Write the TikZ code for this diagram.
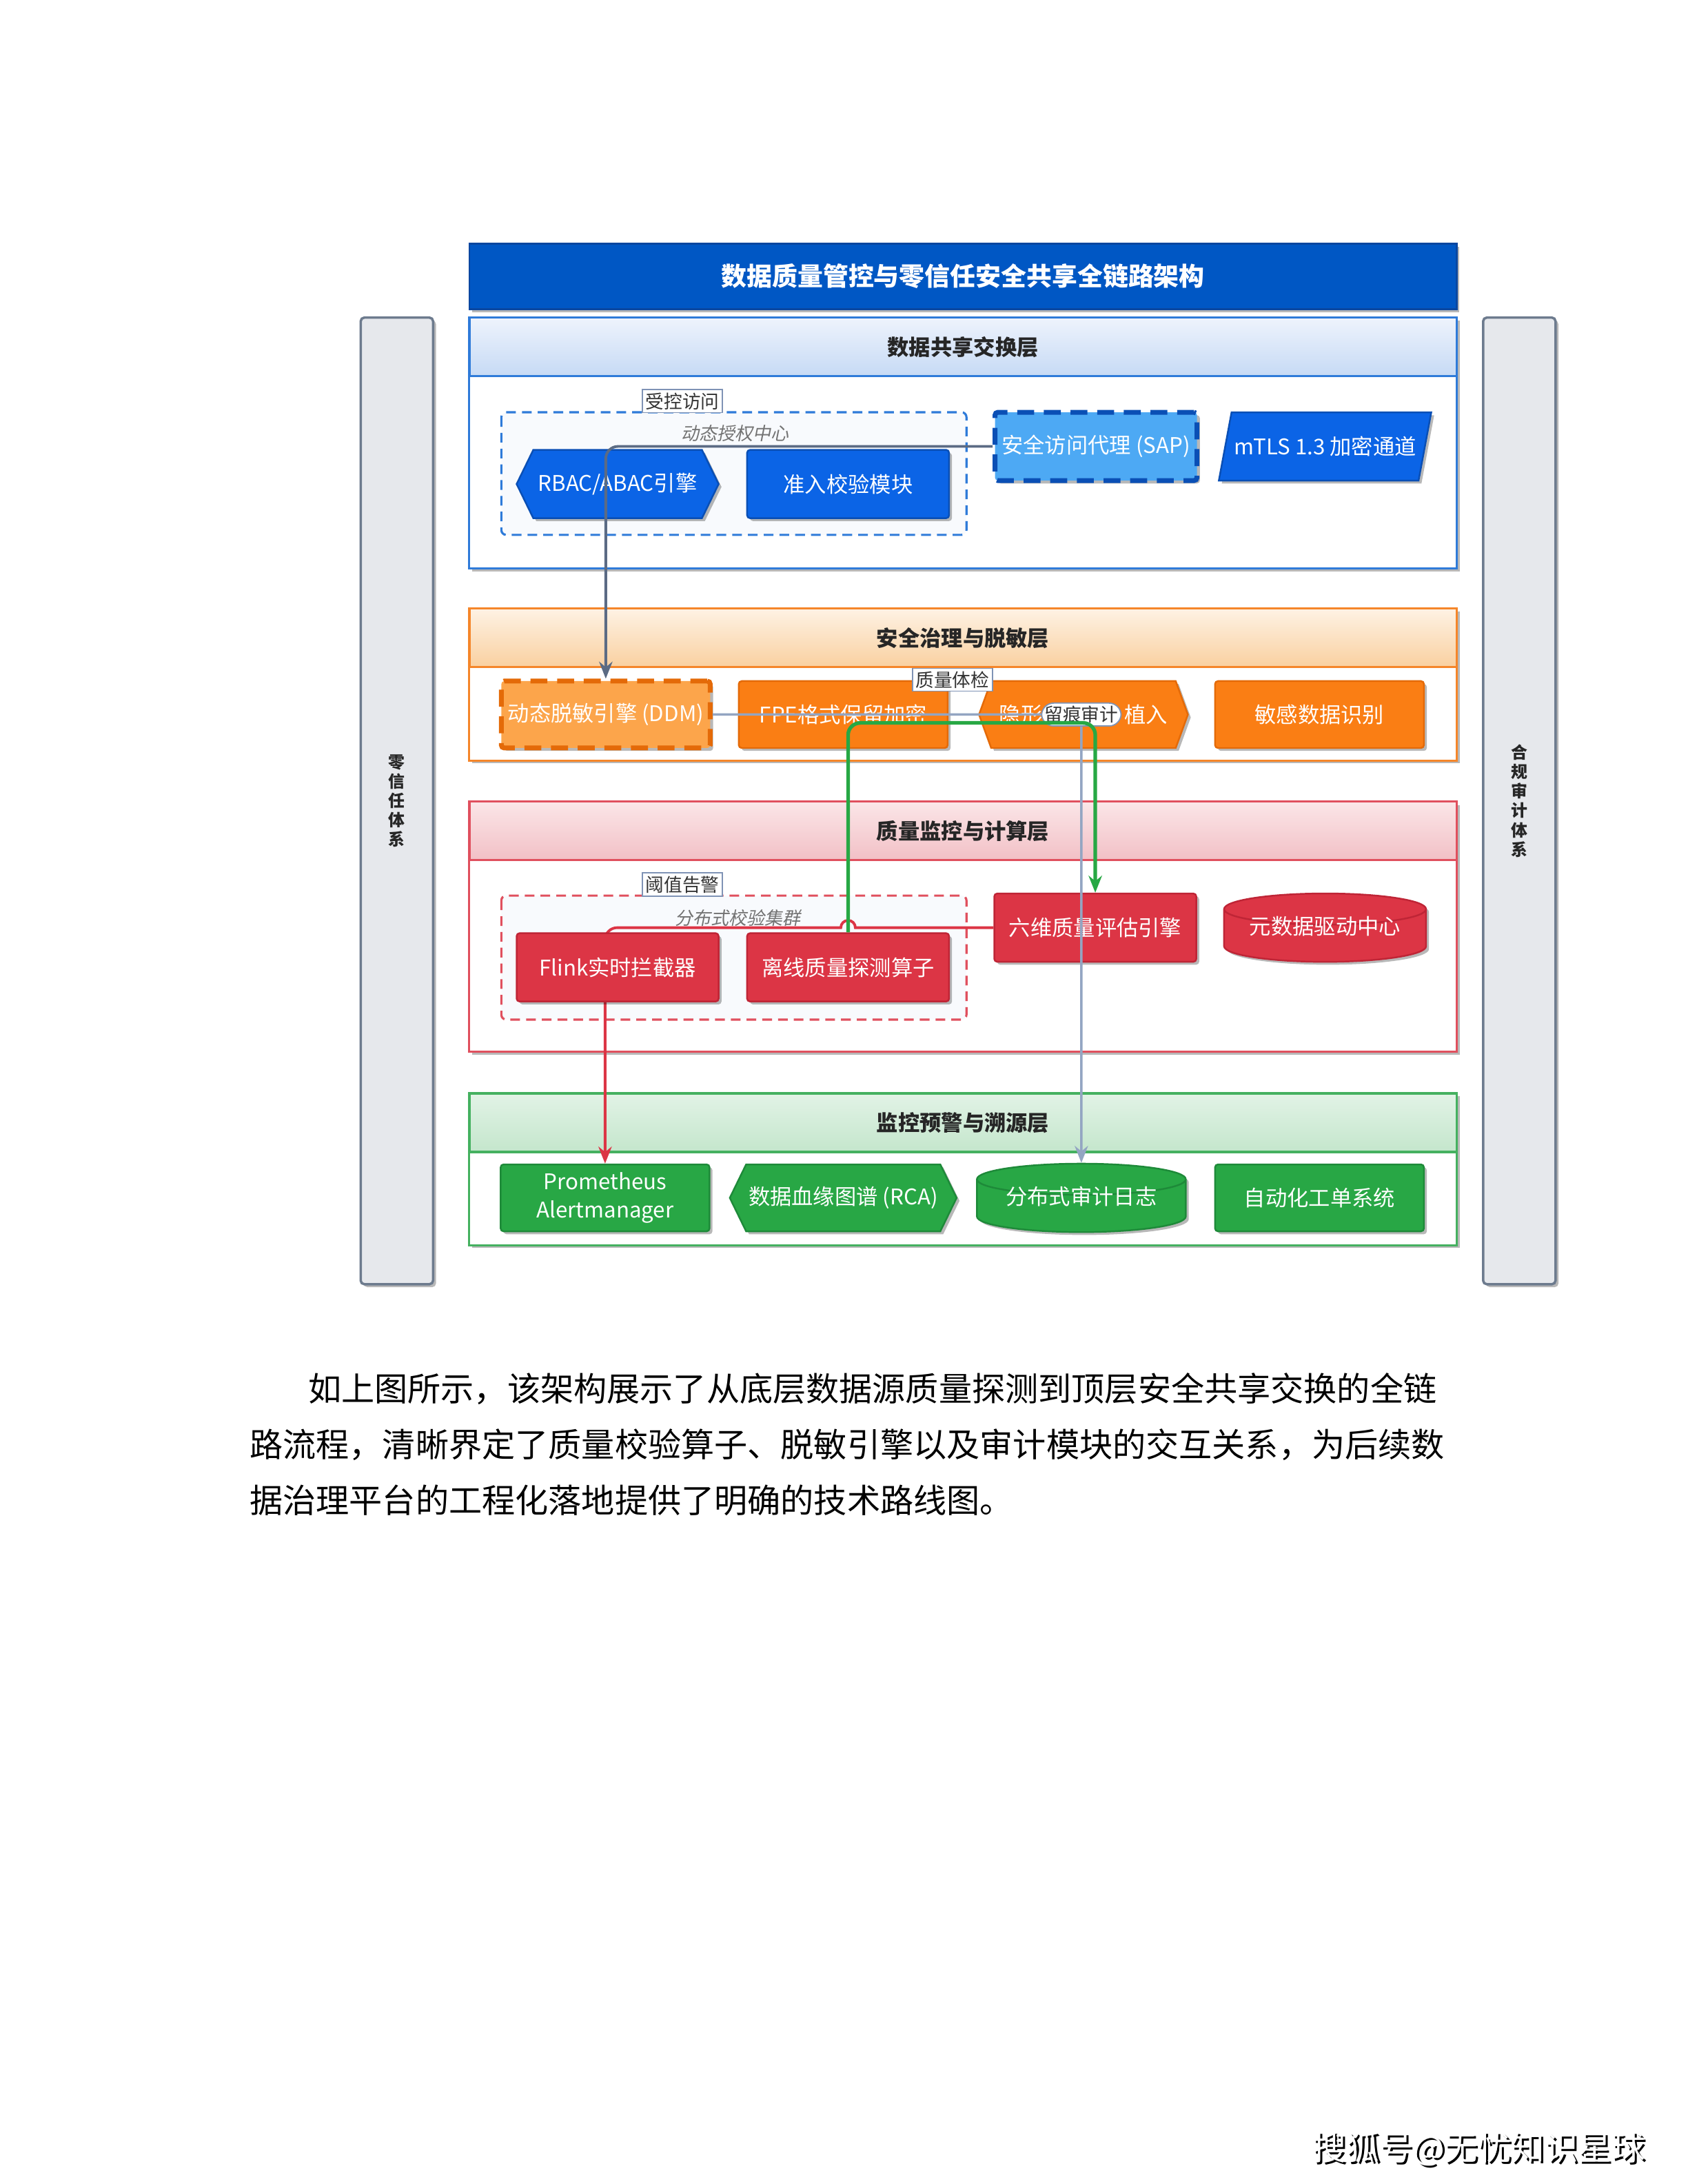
\documentclass[tikz,border=0pt]{standalone}
\usepackage{fontspec}
\setmainfont{Noto Sans CJK SC}
\newfontfamily\slantcjk{Noto Sans CJK SC}[FakeSlant=0.2]
\usetikzlibrary{calc,positioning,arrows.meta,shapes.geometric,shapes.symbols,shadows}

\definecolor{hdblue}{HTML}{0057C4}
\definecolor{hdblueD}{HTML}{0A47A0}
\definecolor{nblue}{HTML}{0B64E6}
\definecolor{nblueD}{HTML}{0A4FB5}
\definecolor{sapblue}{HTML}{4DA9F4}
\definecolor{lblue}{HTML}{2F7BD9}
\definecolor{hbA}{HTML}{EEF3FC}
\definecolor{hbB}{HTML}{C6DAF5}
\definecolor{nor}{HTML}{FA7E14}
\definecolor{norD}{HTML}{E46A08}
\definecolor{ddmor}{HTML}{FCA54B}
\definecolor{lor}{HTML}{F5862A}
\definecolor{hoA}{HTML}{FEF2E4}
\definecolor{hoB}{HTML}{F9D0A0}
\definecolor{nred}{HTML}{DC3545}
\definecolor{nredD}{HTML}{BF2536}
\definecolor{lred}{HTML}{E0505E}
\definecolor{hrA}{HTML}{FBE6E8}
\definecolor{hrB}{HTML}{F2C0C6}
\definecolor{ngreen}{HTML}{28A745}
\definecolor{ngreenD}{HTML}{1E8A39}
\definecolor{lgreen}{HTML}{45B160}
\definecolor{hgA}{HTML}{E2F3E6}
\definecolor{hgB}{HTML}{C4E6CC}
\definecolor{qgreen}{HTML}{27A844}
\definecolor{grpfill}{HTML}{F8FAFD}
\definecolor{sidegray}{HTML}{E6E8EC}
\definecolor{sideline}{HTML}{6D7B8E}
\definecolor{tagline}{HTML}{7F93B5}
\definecolor{slate}{HTML}{5B6B84}
\definecolor{paleslate}{HTML}{93A5C2}

\pgfdeclarelayer{bg}
\pgfdeclarelayer{mid}
\pgfsetlayers{bg,mid,main}

\tikzset{
  dshadow/.style={drop shadow={shadow xshift=1.2pt,shadow yshift=-1.2pt,opacity=0.28,fill=black}},
  box/.style={rectangle,rounded corners=1.2pt,minimum width=2.93cm,minimum height=0.99cm,
    inner sep=1pt,align=center,text=white,line width=0.7pt,
    font=\fontsize{8.9}{11.5}\selectfont,dshadow},
  widebox/.style={box,minimum width=3.03cm,minimum height=0.97cm},
  hexa/.style={signal,signal to=west and east,signal pointer angle=128,sharp corners},
  drum/.style={cylinder,shape border rotate=90,shape aspect=0.2,sharp corners,
    anchor=shape center,text height=0.1cm,text depth=0.18cm},
  dashedge/.style={line width=2pt,dash pattern=on 7pt off 4pt},
  bluebox/.style={box,fill=nblue,draw=nblueD},
  bluehex/.style={bluebox,hexa},
  sapbox/.style={box,fill=sapblue,draw=nblueD,dashedge},
  bluepara/.style={bluebox,trapezium,trapezium left angle=63,trapezium right angle=117,
    trapezium stretches=true,sharp corners},
  orbox/.style={widebox,fill=nor,draw=norD},
  ddmbox/.style={widebox,fill=ddmor,draw=norD,dashedge},
  orhex/.style={orbox,hexa,signal pointer angle=140},
  rdbox/.style={box,fill=nred,draw=nredD},
  rddrum/.style={rdbox,drum},
  gnbox/.style={widebox,fill=ngreen,draw=ngreenD},
  gnhex/.style={gnbox,hexa},
  gndrum/.style={gnbox,drum},
  titlebar/.style={fill=hdblue,draw=hdblueD,line width=0.8pt,minimum width=14.32cm,
    minimum height=0.95cm,text=white,font=\bfseries\fontsize{10.5}{12}\selectfont,dshadow},
  lframe/.style={line width=0.9pt,fill=white,dshadow},
  lhead/.style={minimum width=14.32cm,minimum height=0.85cm,line width=0.9pt,
    font=\bfseries\fontsize{8.9}{10.6}\selectfont,text=black!85},
  grp/.style={dash pattern=on 4pt off 2.5pt,line width=0.9pt,rounded corners=2pt,fill=grpfill},
  tag/.style={draw=tagline,fill=white,line width=0.5pt,inner sep=1.2pt,
    font=\fontsize{7.6}{8.6}\selectfont,text=black!80},
  grpname/.style={font=\slantcjk\fontsize{7.4}{8.4}\selectfont,text=black!55},
  sidebar/.style={fill=sidegray,draw=sideline,line width=1pt,rounded corners=1.5pt,
    minimum width=1.05cm,minimum height=14.02cm,align=center,dshadow,
    font=\bfseries\fontsize{6.8}{8}\selectfont,text=black!85},
  flow/.style={line width=1.1pt,rounded corners=5pt,-{Stealth[length=7pt,width=5.5pt]}},
  ctl/.style={flow,draw=slate},
  trace/.style={flow,draw=paleslate,line width=1pt},
  qc/.style={flow,draw=qgreen,line width=1.5pt},
  alarm/.style={flow,draw=nred,sharp corners},
  bodytxt/.style={anchor=west,inner sep=0pt,font=\fontsize{13.7}{16}\selectfont},
  footer/.style={inner sep=0pt,font=\fontsize{13.8}{16}\selectfont}
}

\begin{document}
\begin{tikzpicture}[x=0.0202cm,y=-0.0202cm]
  \useasboundingbox (0,0) rectangle (1212,1568);

  % layers
  \begin{pgfonlayer}{bg}
    \draw[lframe,draw=lblue] (337,228) rectangle (1046,408);
    \node[lhead,draw=lblue,top color=hbA,bottom color=hbB] (l1) at (691.5,249) {数据共享交换层};
    \draw[lframe,draw=lor] (337,437) rectangle (1046,546);
    \node[lhead,draw=lor,top color=hoA,bottom color=hoB] (l2) at (691.5,458) {安全治理与脱敏层};
    \draw[lframe,draw=lred] (337,576) rectangle (1046,755);
    \node[lhead,draw=lred,top color=hrA,bottom color=hrB] (l3) at (691.5,596.5) {质量监控与计算层};
    \draw[lframe,draw=lgreen] (337,785) rectangle (1046,894);
    \node[lhead,draw=lgreen,top color=hgA,bottom color=hgB] (l4) at (691.5,806) {监控预警与溯源层};
    \draw[grp,draw=lblue] (360,296) rectangle (694,384);
    \draw[grp,draw=lred] (360,643) rectangle (694,732);
  \end{pgfonlayer}

  \node[titlebar] (ttl) at (691.5,198.5) {数据质量管控与零信任安全共享全链路架构};
  \node[sidebar] (zt) at (285,575) {零\\信\\任\\体\\系};
  \node[sidebar] (hg) at (1091,575) {合\\规\\审\\计\\体\\系};

  \node[grpname] (g1) at (528,311) {动态授权中心};
  \node[grpname] (g3) at (530,659) {分布式校验集群};

  \foreach \nm/\st/\x/\y/\txt in {rbac/bluehex/443.5/347.5/{RBAC/ABAC引擎},
      adm/bluebox/609/347.5/准入校验模块, sap/sapbox/787/320.5/{安全访问代理 (SAP)},
      mtls/bluepara/951.5/320.5/{mTLS 1.3 加密通道}}
    \node[\st] (\nm) at (\x,\y) {\txt};

  \foreach \nm/\st/\x/\txt in {ddm/ddmbox/435/{动态脱敏引擎 (DDM)}, fpe/orbox/605.5/FPE格式保留加密,
      wm/orhex/778/{隐形\hspace{1.19cm}植入}, sens/orbox/947.5/敏感数据识别}
    \node[\st] (\nm) at (\x,513) {\txt};

  \foreach \nm/\st/\x/\y/\txt in {flink/rdbox/443.5/694.5/Flink实时拦截器,
      off/rdbox/609/694.5/离线质量探测算子, six/rdbox/786.5/666/六维质量评估引擎,
      meta/rddrum/951.5/666/元数据驱动中心}
    \node[\st] (\nm) at (\x,\y) {\txt};

  \foreach \nm/\st/\x/\txt in {prom/gnbox/434.5/{Prometheus\\Alertmanager},
      rca/gnhex/605.5/{数据血缘图谱 (RCA)}, log/gndrum/776.5/分布式审计日志,
      auto/gnbox/947.5/自动化工单系统}
    \node[\st] (\nm) at (\x,860) {\txt};

  % connectors
  \coordinate (hop) at (six.west -| off.north);
  \begin{pgfonlayer}{mid}
    \draw[alarm] (six.west) -- ($(hop)+(3pt,0)$) arc[start angle=0,end angle=180,radius=3pt]
      [rounded corners=5pt] -- (six.west -| prom.north) -- (prom.north);
  \end{pgfonlayer}
  \draw[ctl] (sap.west) -- (sap.west -| ddm.north) -- (ddm.north);
  \draw[trace] (ddm.east) -- (ddm.east -| log.north) node[tag] (lh) {留痕审计} -- (log.north);
  \coordinate (qy) at (0,519);
  \draw[qc] (off.north) -- (off.north |- qy) -- (six.north |- qy) -- (six.north);

  \node[tag] (sk) at (490,288) {受控访问};
  \node[tag] (zj) at (684,488) {质量体检};
  \node[tag] (yz) at (490,635) {阈值告警};

  % text below
  \node[bodytxt] (p1) at (221,997) {如上图所示，该架构展示了从底层数据源质量探测到顶层安全共享交换的全链};
  \node[bodytxt] (p2) at (179,1037) {路流程，清晰界定了质量校验算子、脱敏引擎以及审计模块的交互关系，为后续数};
  \node[bodytxt] (p3) at (179,1077) {据治理平台的工程化落地提供了明确的技术路线图。};

  \node[footer,text=black] (fs) at (1063.5,1544.5) {搜狐号@无忧知识星球};
  \node[footer,text=white] (ft) at (1062,1543) {搜狐号@无忧知识星球};
\end{tikzpicture}
\end{document}
